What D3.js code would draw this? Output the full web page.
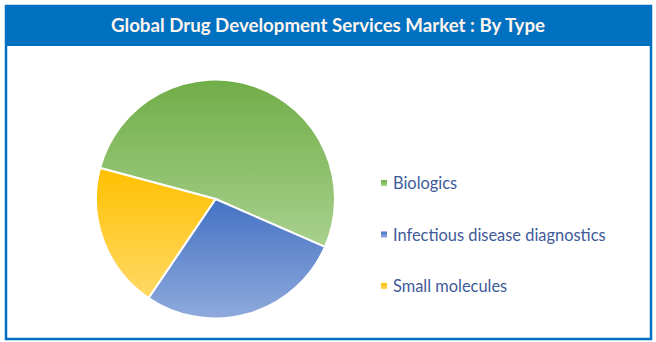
<!DOCTYPE html>
<html><head><meta charset="utf-8">
<script src="https://cdn.jsdelivr.net/npm/d3@7"></script>
<style>html,body{margin:0;padding:0;background:#fff;}svg{display:block;}</style>
</head><body>
<svg id="c" width="656" height="342"></svg>
<script>
const title = "Global Drug Development Services Market : By Type";
const categories = ["Biologics", "Infectious disease diagnostics", "Small molecules"];
const values = [52.4, 27.9, 19.7];
const topColors = ["#70AD47", "#4472C4", "#FFC000"];
const bottomColors = ["#A9D18E", "#8FAADC", "#FFD966"];

const svg = d3.select("#c");
const defs = svg.append("defs");
categories.forEach((c, i) => {
  const g = defs.append("linearGradient").attr("id", "g" + i)
    .attr("x1", 0).attr("y1", 0).attr("x2", 0).attr("y2", 1);
  g.append("stop").attr("offset", "0%").attr("stop-color", topColors[i]);
  g.append("stop").attr("offset", "100%").attr("stop-color", bottomColors[i]);
});

svg.append("rect").attr("x", 6).attr("y", 6).attr("width", 645).attr("height", 333)
  .attr("fill", "#fff").attr("stroke", "#0070C0").attr("stroke-width", 2.5);
svg.append("rect").attr("x", 5).attr("y", 5).attr("width", 647).attr("height", 41)
  .attr("fill", "#0070C0");
svg.append("text").attr("x", 328).attr("y", 31.5).attr("text-anchor", "middle")
  .attr("font-family", "Lato, 'Open Sans', sans-serif").attr("font-weight", "bold")
  .attr("font-size", 18.7).attr("fill", "#FFF5EE").text(title);

const cx = 215.5, cy = 199, r = 119.5;
const pie = d3.pie().sort(null).startAngle(-75 * Math.PI / 180).endAngle(285 * Math.PI / 180);
const arc = d3.arc().innerRadius(0).outerRadius(r);
const g = svg.append("g").attr("transform", `translate(${cx},${cy})`);
g.selectAll("path").data(pie(values)).join("path")
  .attr("d", arc).attr("fill", (d, i) => `url(#g${i})`)
  .attr("stroke", "#fff").attr("stroke-width", 2).attr("stroke-linejoin", "round");

const y = d3.scalePoint().domain(categories).range([183, 286]);
const lg = svg.append("g");
categories.forEach((c, i) => {
  lg.append("rect").attr("x", 381).attr("y", y(c) - 3).attr("width", 6).attr("height", 6)
    .attr("fill", `url(#g${i})`);
  lg.append("text").attr("x", 393).attr("y", y(c) + 6)
    .attr("font-family", "Lato, 'Open Sans', sans-serif").attr("font-size", 16.4)
    .attr("fill", "#3E5A98").text(c);
});
</script>
</body></html>
